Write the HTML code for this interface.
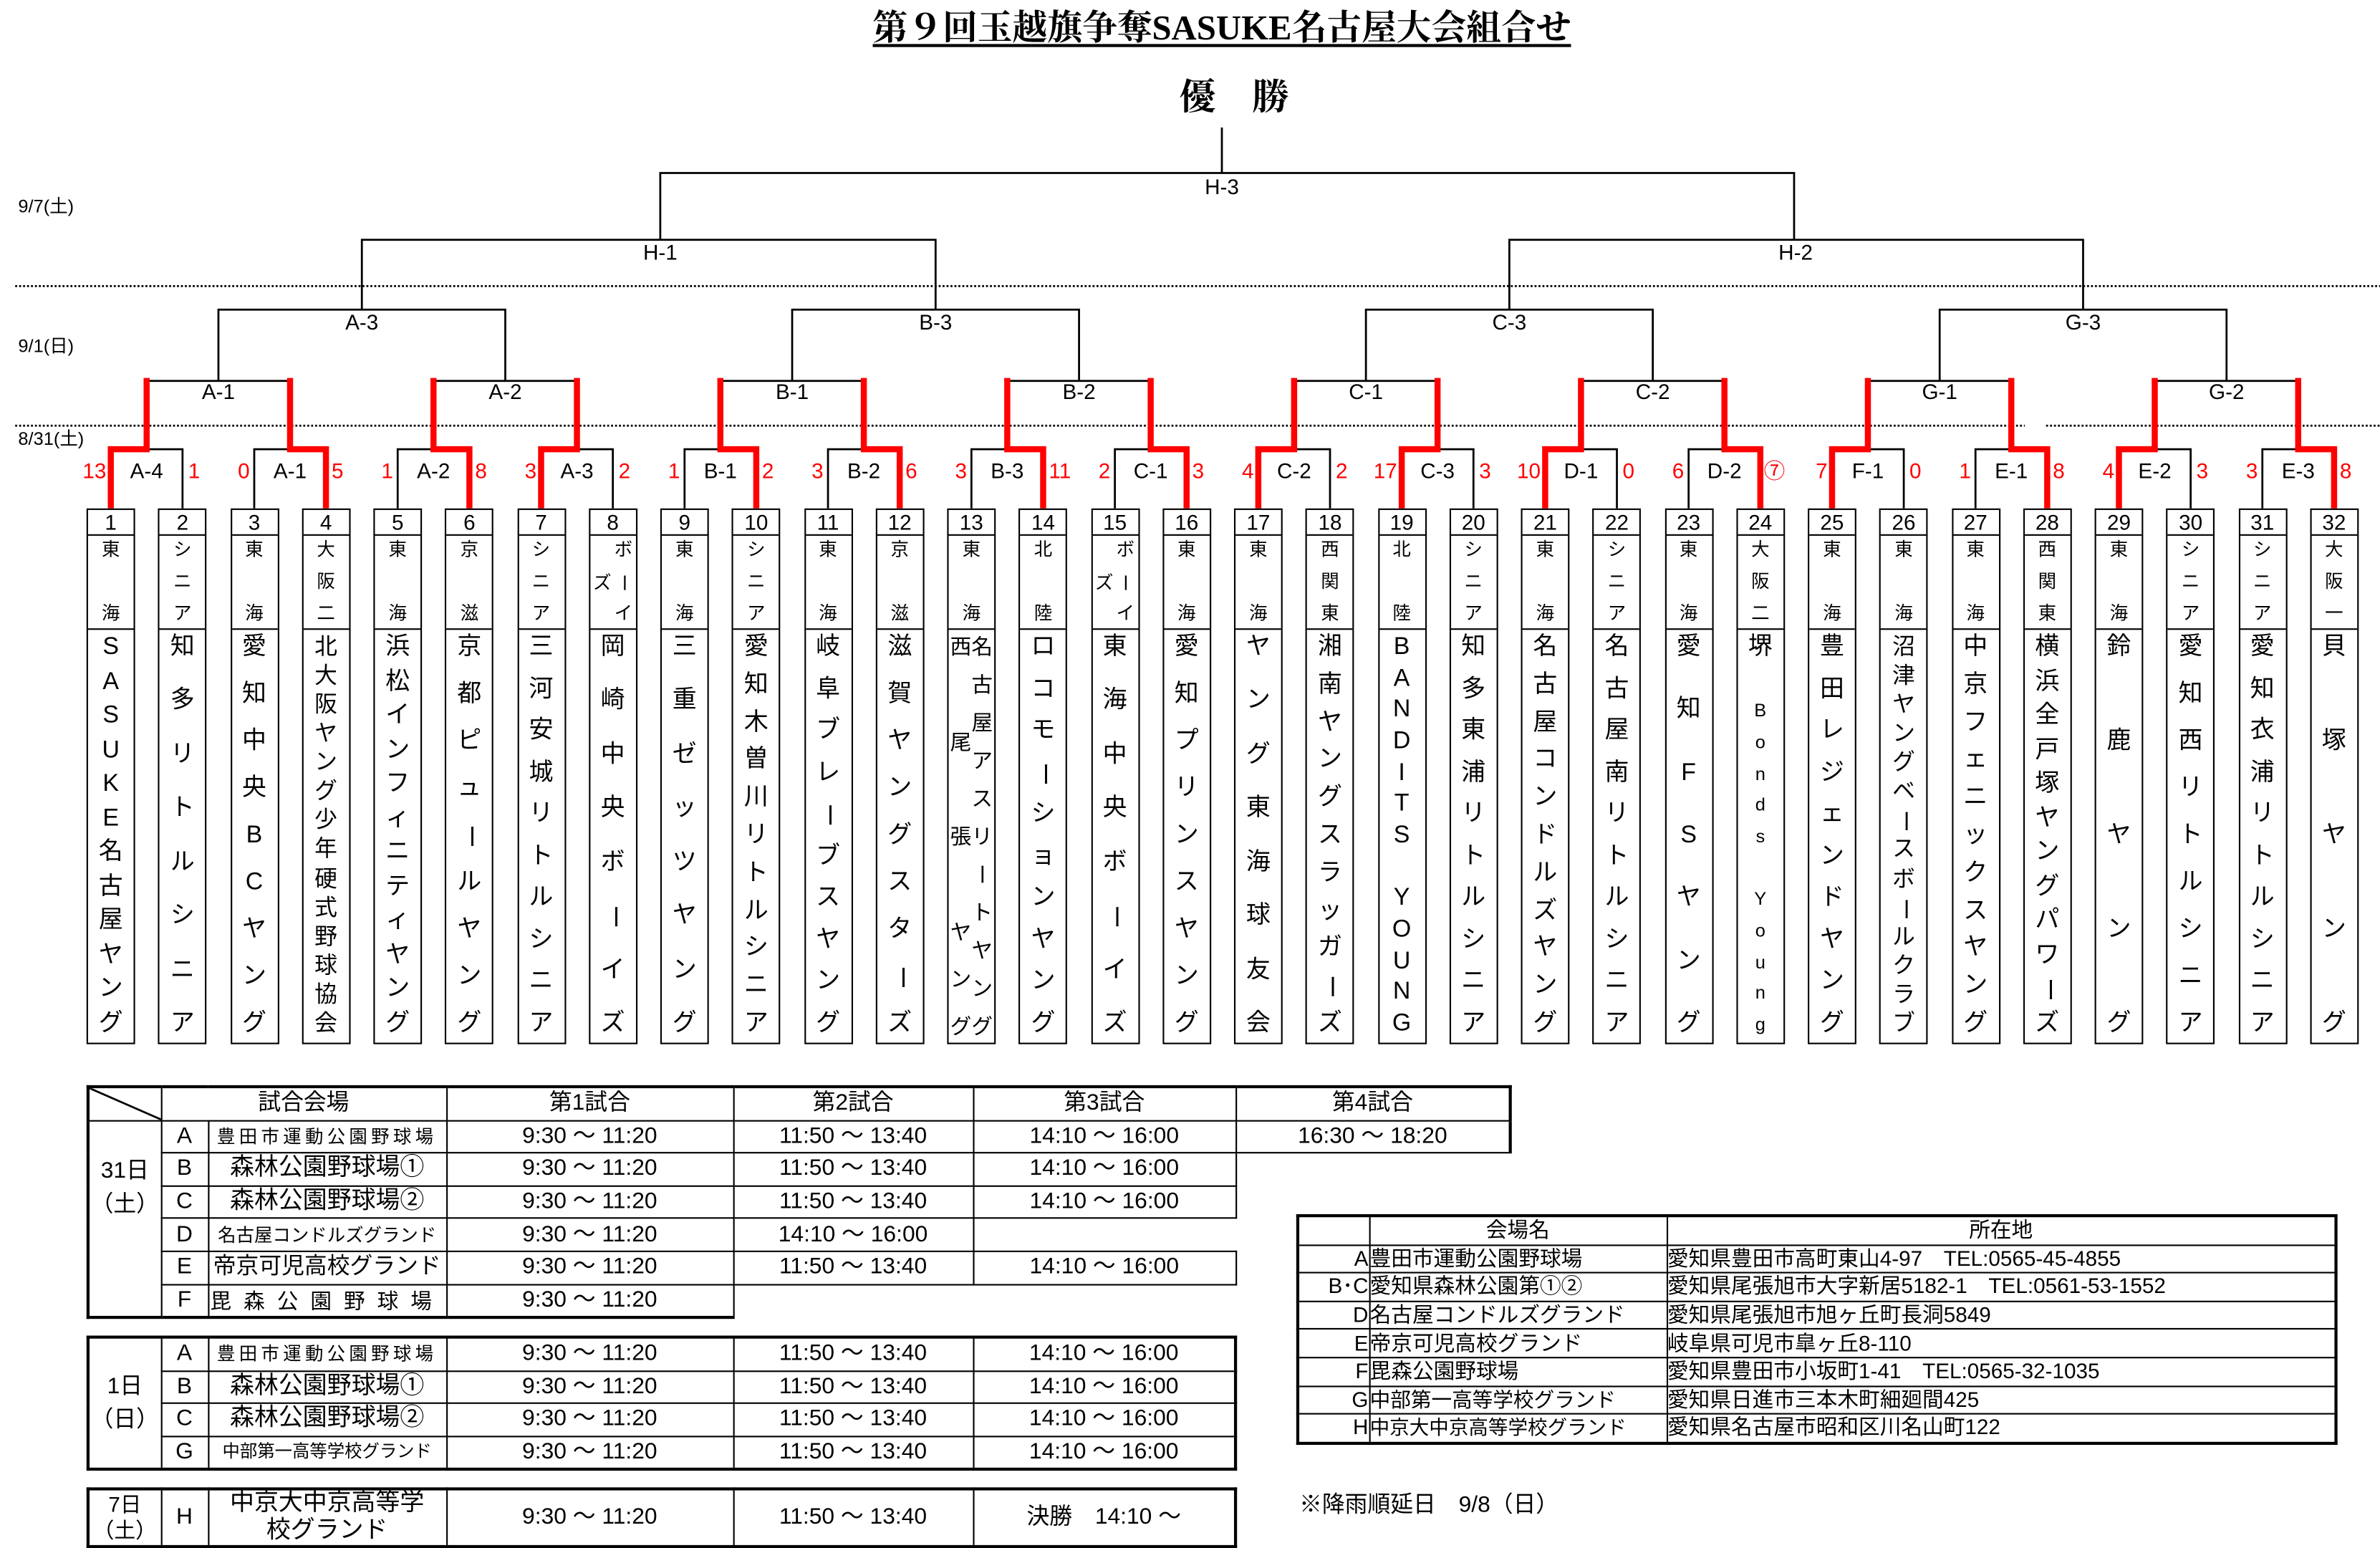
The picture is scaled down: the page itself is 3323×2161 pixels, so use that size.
<!DOCTYPE html>
<html><head><meta charset="utf-8">
<style>
html,body{margin:0;padding:0;background:#fff;width:3323px;height:2159px;overflow:hidden}
#root{position:absolute;left:0;top:0;width:1568px;height:1019px;transform:scale(2.11926,2.11874);transform-origin:0 0;font-family:"Liberation Sans","Noto Sans CJK JP",sans-serif;color:#000}
.ab{position:absolute}
.b{position:absolute;top:335px;width:32px;height:353px;border:1.5px solid #000;box-sizing:border-box;display:flex;flex-direction:column;background:#fff}
.n{height:16px;border-bottom:1.5px solid #000;font-size:14px;line-height:17px;text-align:center;flex:none}
.r{height:62px;border-bottom:1.5px solid #000;display:flex;flex-direction:column;justify-content:space-between;align-items:center;font-size:12px;line-height:14px;padding:2px 0 3px;box-sizing:border-box;flex:none;position:relative}
.t{flex:1;display:flex;flex-direction:column;justify-content:space-between;align-items:center;font-size:16px;line-height:18px;padding:3px 0 3px;box-sizing:border-box}
.t span,.r span{display:block;height:18px}
.r span{height:14px}
.v{transform:rotate(90deg)}
.t2{flex:1;display:flex;flex-direction:row;justify-content:space-between;padding:3px 1px;box-sizing:border-box;font-size:14px;line-height:16px}
.t2>div{display:flex;flex-direction:column;justify-content:space-between;align-items:center;width:15px}
.t2 span{display:block;height:16px}
.sm{font-size:12px}
table{border-collapse:collapse;table-layout:fixed;position:absolute}
td{border:1.4px solid #000;padding:0;text-align:center;font-size:15px;white-space:nowrap;overflow:hidden}
td.e{border:none}
.sch td{height:20.6px;line-height:20px}
.ven td{height:17.6px;line-height:17px;font-size:14px}
</style></head><body><div id="root">

<svg class="ab" style="left:0;top:0" width="1568" height="1019" viewBox="0 0 1568 1019">
<g stroke="#000" stroke-width="1.3" fill="none">
<line x1="805" y1="84" x2="805" y2="114"/>
<path d="M435 158V114H1182V158"/>
<path d="M238.4 204V158H616.4V204"/>
<path d="M994.4 204V158H1372.4V204"/>
<path d="M143.9 251V204H332.9V251"/>
<path d="M521.9 251V204H710.9V251"/>
<path d="M899.9 251V204H1088.9V251"/>
<path d="M1277.9 251V204H1466.9V251"/>
<path d="M96.6 251H191.1M285.6 251H380.1M474.6 251H569.1M663.6 251H758.1M852.6 251H947.1M1041.6 251H1136.1M1230.6 251H1325.1M1419.6 251H1514.1"/>
<path d="M73 335V296H120.25V335M167.5 335V296H214.75V335M262 335V296H309.25V335M356.5 335V296H403.75V335M451 335V296H498.25V335M545.5 335V296H592.75V335M640 335V296H687.25V335M734.5 335V296H781.75V335M829 335V296H876.25V335M923.5 335V296H970.75V335M1018 335V296H1065.25V335M1112.5 335V296H1159.75V335M1207 335V296H1254.25V335M1301.5 335V296H1348.75V335M1396 335V296H1443.25V335M1490.5 335V296H1537.75V335"/>
</g>
<g stroke="#000" stroke-width="1.3" stroke-dasharray="1.3 1.3">
<line x1="10" y1="188.5" x2="1568" y2="188.5"/>
<line x1="10" y1="280.5" x2="1334" y2="280.5"/>
<line x1="1348" y1="280.5" x2="1568" y2="280.5"/>
</g>
<g stroke="#f00" stroke-width="4" fill="none" stroke-linejoin="miter">
<path d="M73 335V296H96.6V249"/>
<path d="M214.75 335V296H191.1V249"/>
<path d="M309.25 335V296H285.6V249"/>
<path d="M356.5 335V296H380.1V249"/>
<path d="M498.25 335V296H474.6V249"/>
<path d="M592.75 335V296H569.1V249"/>
<path d="M687.25 335V296H663.6V249"/>
<path d="M781.75 335V296H758.1V249"/>
<path d="M829 335V296H852.6V249"/>
<path d="M923.5 335V296H947.1V249"/>
<path d="M1018 335V296H1041.6V249"/>
<path d="M1159.75 335V296H1136.1V249"/>
<path d="M1207 335V296H1230.6V249"/>
<path d="M1348.75 335V296H1325.1V249"/>
<path d="M1396 335V296H1419.6V249"/>
<path d="M1537.75 335V296H1514.1V249"/>
</g>
<g font-family="Liberation Sans, Noto Sans CJK JP, sans-serif" font-size="14" text-anchor="middle">
<text x="805" y="128">H-3</text>
<text x="435" y="171">H-1</text><text x="1183" y="171">H-2</text>
<text x="238.4" y="217">A-3</text><text x="616.4" y="217">B-3</text><text x="994.4" y="217">C-3</text><text x="1372.4" y="217">G-3</text>
<text x="143.9" y="263">A-1</text><text x="332.9" y="263">A-2</text><text x="521.9" y="263">B-1</text><text x="710.9" y="263">B-2</text><text x="899.9" y="263">C-1</text><text x="1088.9" y="263">C-2</text><text x="1277.9" y="263">G-1</text><text x="1466.9" y="263">G-2</text>
<text x="96.6" y="315">A-4</text><text x="191.1" y="315">A-1</text><text x="285.6" y="315">A-2</text><text x="380.1" y="315">A-3</text><text x="474.6" y="315">B-1</text><text x="569.1" y="315">B-2</text><text x="663.6" y="315">B-3</text><text x="758.1" y="315">C-1</text><text x="852.6" y="315">C-2</text><text x="947.1" y="315">C-3</text><text x="1041.6" y="315">D-1</text><text x="1136.1" y="315">D-2</text><text x="1230.6" y="315">F-1</text><text x="1325.1" y="315">E-1</text><text x="1419.6" y="315">E-2</text><text x="1514.1" y="315">E-3</text>
</g>
<g font-family="Liberation Sans, Noto Sans CJK JP, sans-serif" font-size="14" fill="#f00" text-anchor="end">
<text x="70" y="315">13</text><text x="164.5" y="315">0</text><text x="259" y="315">1</text><text x="353.5" y="315">3</text><text x="448" y="315">1</text><text x="542.5" y="315">3</text><text x="637" y="315">3</text><text x="731.5" y="315">2</text><text x="826" y="315">4</text><text x="920.5" y="315">17</text><text x="1015" y="315">10</text><text x="1109.5" y="315">6</text><text x="1204" y="315">7</text><text x="1298.5" y="315">1</text><text x="1393" y="315">4</text><text x="1487.5" y="315">3</text>
</g>
<g font-family="Liberation Sans, Noto Sans CJK JP, sans-serif" font-size="14" fill="#f00" text-anchor="start">
<text x="124" y="315">1</text><text x="218.5" y="315">5</text><text x="313" y="315">8</text><text x="407.5" y="315">2</text><text x="502" y="315">2</text><text x="596.5" y="315">6</text><text x="691" y="315">11</text><text x="785.5" y="315">3</text><text x="880" y="315">2</text><text x="974.5" y="315">3</text><text x="1069" y="315">0</text><text x="1162" y="315">⑦</text><text x="1258" y="315">0</text><text x="1352.5" y="315">8</text><text x="1447" y="315">3</text><text x="1541.5" y="315">8</text>
</g>
<g font-family="Liberation Sans, Noto Sans CJK JP, sans-serif" font-size="12">
<text x="12" y="140">9/7(土)</text><text x="12" y="232">9/1(日)</text><text x="12" y="293">8/31(土)</text>
</g>
</svg>

<div class="ab" style="left:560px;top:5px;width:490px;text-align:center;font-family:'Liberation Serif','Noto Serif CJK JP','Noto Serif CJK SC',serif;font-weight:bold;font-size:23px;line-height:28px;white-space:nowrap"><span style="text-decoration:underline;text-decoration-thickness:2px;text-underline-offset:3px">第９回玉越旗争奪SASUKE名古屋大会組合せ</span></div>
<div class="ab" style="left:763px;top:50px;width:100px;text-align:center;font-weight:bold;font-size:24px;line-height:30px;font-family:'Liberation Serif','Noto Serif CJK JP',serif">優　勝</div>

<!-- boxes -->
<div class="b" style="left:57px"><div class="n">1</div><div class="r"><span>東</span><span>海</span></div><div class="t"><span>S</span><span>A</span><span>S</span><span>U</span><span>K</span><span>E</span><span>名</span><span>古</span><span>屋</span><span>ヤ</span><span>ン</span><span>グ</span></div></div>
<div class="b" style="left:104.25px"><div class="n">2</div><div class="r"><span>シ</span><span>ニ</span><span>ア</span></div><div class="t"><span>知</span><span>多</span><span>リ</span><span>ト</span><span>ル</span><span>シ</span><span>ニ</span><span>ア</span></div></div>
<div class="b" style="left:151.5px"><div class="n">3</div><div class="r"><span>東</span><span>海</span></div><div class="t"><span>愛</span><span>知</span><span>中</span><span>央</span><span>B</span><span>C</span><span>ヤ</span><span>ン</span><span>グ</span></div></div>
<div class="b" style="left:198.75px"><div class="n">4</div><div class="r"><span>大</span><span>阪</span><span>二</span></div><div class="t" style="font-size:15px"><span>北</span><span>大</span><span>阪</span><span>ヤ</span><span>ン</span><span>グ</span><span>少</span><span>年</span><span>硬</span><span>式</span><span>野</span><span>球</span><span>協</span><span>会</span></div></div>
<div class="b" style="left:246px"><div class="n">5</div><div class="r"><span>東</span><span>海</span></div><div class="t"><span>浜</span><span>松</span><span>イ</span><span>ン</span><span>フ</span><span>ィ</span><span>ニ</span><span>テ</span><span>ィ</span><span>ヤ</span><span>ン</span><span>グ</span></div></div>
<div class="b" style="left:293.25px"><div class="n">6</div><div class="r"><span>京</span><span>滋</span></div><div class="t"><span>京</span><span>都</span><span>ピ</span><span>ュ</span><span class="v">ー</span><span>ル</span><span>ヤ</span><span>ン</span><span>グ</span></div></div>
<div class="b" style="left:340.5px"><div class="n">7</div><div class="r"><span>シ</span><span>ニ</span><span>ア</span></div><div class="t"><span>三</span><span>河</span><span>安</span><span>城</span><span>リ</span><span>ト</span><span>ル</span><span>シ</span><span>ニ</span><span>ア</span></div></div>
<div class="b" style="left:387.75px"><div class="n">8</div><div class="r"><span style="position:absolute;right:2px;top:2px">ボ</span><span style="position:absolute;left:2px;top:24px">ズ</span><span class="v" style="position:absolute;right:2px;top:24px">ー</span><span style="position:absolute;right:2px;bottom:3px">イ</span></div><div class="t"><span>岡</span><span>崎</span><span>中</span><span>央</span><span>ボ</span><span class="v">ー</span><span>イ</span><span>ズ</span></div></div>
<div class="b" style="left:435px"><div class="n">9</div><div class="r"><span>東</span><span>海</span></div><div class="t"><span>三</span><span>重</span><span>ゼ</span><span>ッ</span><span>ツ</span><span>ヤ</span><span>ン</span><span>グ</span></div></div>
<div class="b" style="left:482.25px"><div class="n">10</div><div class="r"><span>シ</span><span>ニ</span><span>ア</span></div><div class="t"><span>愛</span><span>知</span><span>木</span><span>曽</span><span>川</span><span>リ</span><span>ト</span><span>ル</span><span>シ</span><span>ニ</span><span>ア</span></div></div>
<div class="b" style="left:529.5px"><div class="n">11</div><div class="r"><span>東</span><span>海</span></div><div class="t"><span>岐</span><span>阜</span><span>ブ</span><span>レ</span><span class="v">ー</span><span>ブ</span><span>ス</span><span>ヤ</span><span>ン</span><span>グ</span></div></div>
<div class="b" style="left:576.75px"><div class="n">12</div><div class="r"><span>京</span><span>滋</span></div><div class="t"><span>滋</span><span>賀</span><span>ヤ</span><span>ン</span><span>グ</span><span>ス</span><span>タ</span><span class="v">ー</span><span>ズ</span></div></div>
<div class="b" style="left:624px"><div class="n">13</div><div class="r"><span>東</span><span>海</span></div><div class="t2"><div><span>西</span><span></span><span>尾</span><span></span><span>張</span><span></span><span>ヤ</span><span>ン</span><span>グ</span></div><div><span>名</span><span>古</span><span>屋</span><span>ア</span><span>ス</span><span>リ</span><span class="v">ー</span><span>ト</span><span>ヤ</span><span>ン</span><span>グ</span></div></div></div>
<div class="b" style="left:671.25px"><div class="n">14</div><div class="r"><span>北</span><span>陸</span></div><div class="t"><span>ロ</span><span>コ</span><span>モ</span><span class="v">ー</span><span>シ</span><span>ョ</span><span>ン</span><span>ヤ</span><span>ン</span><span>グ</span></div></div>
<div class="b" style="left:718.5px"><div class="n">15</div><div class="r"><span style="position:absolute;right:2px;top:2px">ボ</span><span style="position:absolute;left:2px;top:24px">ズ</span><span class="v" style="position:absolute;right:2px;top:24px">ー</span><span style="position:absolute;right:2px;bottom:3px">イ</span></div><div class="t"><span>東</span><span>海</span><span>中</span><span>央</span><span>ボ</span><span class="v">ー</span><span>イ</span><span>ズ</span></div></div>
<div class="b" style="left:765.75px"><div class="n">16</div><div class="r"><span>東</span><span>海</span></div><div class="t"><span>愛</span><span>知</span><span>プ</span><span>リ</span><span>ン</span><span>ス</span><span>ヤ</span><span>ン</span><span>グ</span></div></div>
<div class="b" style="left:813px"><div class="n">17</div><div class="r"><span>東</span><span>海</span></div><div class="t"><span>ヤ</span><span>ン</span><span>グ</span><span>東</span><span>海</span><span>球</span><span>友</span><span>会</span></div></div>
<div class="b" style="left:860.25px"><div class="n">18</div><div class="r"><span>西</span><span>関</span><span>東</span></div><div class="t"><span>湘</span><span>南</span><span>ヤ</span><span>ン</span><span>グ</span><span>ス</span><span>ラ</span><span>ッ</span><span>ガ</span><span class="v">ー</span><span>ズ</span></div></div>
<div class="b" style="left:907.5px"><div class="n">19</div><div class="r"><span>北</span><span>陸</span></div><div class="t"><span>B</span><span>A</span><span>N</span><span>D</span><span>I</span><span>T</span><span>S</span><span></span><span>Y</span><span>O</span><span>U</span><span>N</span><span>G</span></div></div>
<div class="b" style="left:954.75px"><div class="n">20</div><div class="r"><span>シ</span><span>ニ</span><span>ア</span></div><div class="t"><span>知</span><span>多</span><span>東</span><span>浦</span><span>リ</span><span>ト</span><span>ル</span><span>シ</span><span>ニ</span><span>ア</span></div></div>
<div class="b" style="left:1002px"><div class="n">21</div><div class="r"><span>東</span><span>海</span></div><div class="t"><span>名</span><span>古</span><span>屋</span><span>コ</span><span>ン</span><span>ド</span><span>ル</span><span>ズ</span><span>ヤ</span><span>ン</span><span>グ</span></div></div>
<div class="b" style="left:1049.25px"><div class="n">22</div><div class="r"><span>シ</span><span>ニ</span><span>ア</span></div><div class="t"><span>名</span><span>古</span><span>屋</span><span>南</span><span>リ</span><span>ト</span><span>ル</span><span>シ</span><span>ニ</span><span>ア</span></div></div>
<div class="b" style="left:1096.5px"><div class="n">23</div><div class="r"><span>東</span><span>海</span></div><div class="t"><span>愛</span><span>知</span><span>F</span><span>S</span><span>ヤ</span><span>ン</span><span>グ</span></div></div>
<div class="b" style="left:1143.75px"><div class="n">24</div><div class="r"><span>大</span><span>阪</span><span>二</span></div><div class="t"><span>堺</span><span></span><span class="sm">B</span><span class="sm">o</span><span class="sm">n</span><span class="sm">d</span><span class="sm">s</span><span></span><span class="sm">Y</span><span class="sm">o</span><span class="sm">u</span><span class="sm">n</span><span class="sm">g</span></div></div>
<div class="b" style="left:1191px"><div class="n">25</div><div class="r"><span>東</span><span>海</span></div><div class="t"><span>豊</span><span>田</span><span>レ</span><span>ジ</span><span>ェ</span><span>ン</span><span>ド</span><span>ヤ</span><span>ン</span><span>グ</span></div></div>
<div class="b" style="left:1238.25px"><div class="n">26</div><div class="r"><span>東</span><span>海</span></div><div class="t" style="font-size:15px"><span>沼</span><span>津</span><span>ヤ</span><span>ン</span><span>グ</span><span>ベ</span><span class="v">ー</span><span>ス</span><span>ボ</span><span class="v">ー</span><span>ル</span><span>ク</span><span>ラ</span><span>ブ</span></div></div>
<div class="b" style="left:1285.5px"><div class="n">27</div><div class="r"><span>東</span><span>海</span></div><div class="t"><span>中</span><span>京</span><span>フ</span><span>ェ</span><span>ニ</span><span>ッ</span><span>ク</span><span>ス</span><span>ヤ</span><span>ン</span><span>グ</span></div></div>
<div class="b" style="left:1332.75px"><div class="n">28</div><div class="r"><span>西</span><span>関</span><span>東</span></div><div class="t"><span>横</span><span>浜</span><span>全</span><span>戸</span><span>塚</span><span>ヤ</span><span>ン</span><span>グ</span><span>パ</span><span>ワ</span><span class="v">ー</span><span>ズ</span></div></div>
<div class="b" style="left:1380px"><div class="n">29</div><div class="r"><span>東</span><span>海</span></div><div class="t"><span>鈴</span><span>鹿</span><span>ヤ</span><span>ン</span><span>グ</span></div></div>
<div class="b" style="left:1427.25px"><div class="n">30</div><div class="r"><span>シ</span><span>ニ</span><span>ア</span></div><div class="t"><span>愛</span><span>知</span><span>西</span><span>リ</span><span>ト</span><span>ル</span><span>シ</span><span>ニ</span><span>ア</span></div></div>
<div class="b" style="left:1474.5px"><div class="n">31</div><div class="r"><span>シ</span><span>ニ</span><span>ア</span></div><div class="t"><span>愛</span><span>知</span><span>衣</span><span>浦</span><span>リ</span><span>ト</span><span>ル</span><span>シ</span><span>ニ</span><span>ア</span></div></div>
<div class="b" style="left:1521.75px"><div class="n">32</div><div class="r"><span>大</span><span>阪</span><span>一</span></div><div class="t"><span>貝</span><span>塚</span><span>ヤ</span><span>ン</span><span>グ</span></div></div>

<!-- schedule block 1 -->
<table class="sch" style="left:57px;top:715px;width:937px">
<colgroup><col style="width:48px"><col style="width:31px"><col style="width:157px"><col style="width:189px"><col style="width:158px"><col style="width:173px"><col style="width:181px"></colgroup>
<tr><td style="position:relative;border-top:2px solid #000;border-left:2px solid #000"><svg width="48" height="21" style="position:absolute;left:0;top:0"><line x1="0" y1="0" x2="48" y2="21" stroke="#000" stroke-width="1.3"/></svg></td><td colspan="2" style="border-top:2px solid #000">試合会場</td><td style="border-top:2px solid #000">第1試合</td><td style="border-top:2px solid #000">第2試合</td><td style="border-top:2px solid #000">第3試合</td><td style="border-top:2px solid #000;border-right:2px solid #000">第4試合</td></tr>
<tr><td rowspan="6" style="line-height:22px;vertical-align:middle;border-bottom:2px solid #000;border-left:2px solid #000"><div style="margin-top:-40px">31日<br>（土）</div></td><td>A</td><td style="font-size:12px;letter-spacing:2.5px">豊田市運動公園野球場</td><td>9:30 ～ 11:20</td><td>11:50 ～ 13:40</td><td>14:10 ～ 16:00</td><td style="border-right:2px solid #000">16:30 ～ 18:20</td></tr>
<tr><td>B</td><td style="font-size:16px">森林公園野球場①</td><td>9:30 ～ 11:20</td><td>11:50 ～ 13:40</td><td>14:10 ～ 16:00</td><td class="e"></td></tr>
<tr><td>C</td><td style="font-size:16px">森林公園野球場②</td><td>9:30 ～ 11:20</td><td>11:50 ～ 13:40</td><td>14:10 ～ 16:00</td><td class="e"></td></tr>
<tr><td>D</td><td style="font-size:12px">名古屋コンドルズグランド</td><td>9:30 ～ 11:20</td><td>14:10 ～ 16:00</td><td class="e"></td><td class="e"></td></tr>
<tr><td>E</td><td style="font-size:15px">帝京可児高校グランド</td><td>9:30 ～ 11:20</td><td>11:50 ～ 13:40</td><td>14:10 ～ 16:00</td><td class="e"></td></tr>
<tr><td style="border-bottom:2px solid #000">F</td><td style="font-size:14px;letter-spacing:8px;border-bottom:2px solid #000">毘森公園野球場</td><td style="border-bottom:2px solid #000;border-right:1.4px solid #000">9:30 ～ 11:20</td><td class="e"></td><td class="e"></td><td class="e"></td></tr>
</table>

<!-- schedule block 2 -->
<table class="sch" style="left:57px;top:880px;width:756px;border:2px solid #000">
<colgroup><col style="width:48px"><col style="width:31px"><col style="width:157px"><col style="width:189px"><col style="width:158px"><col style="width:173px"></colgroup>
<tr><td rowspan="4" style="line-height:22px">1日<br>（日）</td><td>A</td><td style="font-size:12px;letter-spacing:2.5px">豊田市運動公園野球場</td><td>9:30 ～ 11:20</td><td>11:50 ～ 13:40</td><td>14:10 ～ 16:00</td></tr>
<tr><td>B</td><td style="font-size:16px">森林公園野球場①</td><td>9:30 ～ 11:20</td><td>11:50 ～ 13:40</td><td>14:10 ～ 16:00</td></tr>
<tr><td>C</td><td style="font-size:16px">森林公園野球場②</td><td>9:30 ～ 11:20</td><td>11:50 ～ 13:40</td><td>14:10 ～ 16:00</td></tr>
<tr><td>G</td><td style="font-size:11.5px">中部第一高等学校グランド</td><td>9:30 ～ 11:20</td><td>11:50 ～ 13:40</td><td>14:10 ～ 16:00</td></tr>
</table>

<!-- schedule block 3 -->
<table class="sch" style="left:57px;top:980px;width:756px;border:2px solid #000">
<colgroup><col style="width:48px"><col style="width:31px"><col style="width:157px"><col style="width:189px"><col style="width:158px"><col style="width:173px"></colgroup>
<tr><td style="height:35px;line-height:17px;font-size:14px">7日<br>（土）</td><td>H</td><td style="font-size:16px;line-height:18px">中京大中京高等学<br>校グランド</td><td>9:30 ～ 11:20</td><td>11:50 ～ 13:40</td><td>決勝　14:10 ～</td></tr>
</table>

<!-- venue table -->
<table class="ven" style="left:854px;top:800px;width:684px;border:2px solid #000">
<colgroup><col style="width:47px"><col style="width:196px"><col style="width:441px"></colgroup>
<tr><td></td><td>会場名</td><td>所在地</td></tr>
<tr><td style="text-align:right">A</td><td style="text-align:left">豊田市運動公園野球場</td><td style="text-align:left">愛知県豊田市高町東山4-97　TEL:0565-45-4855</td></tr>
<tr><td style="text-align:right">B･C</td><td style="text-align:left">愛知県森林公園第①②</td><td style="text-align:left">愛知県尾張旭市大字新居5182-1　TEL:0561-53-1552</td></tr>
<tr><td style="text-align:right">D</td><td style="text-align:left">名古屋コンドルズグランド</td><td style="text-align:left">愛知県尾張旭市旭ヶ丘町長洞5849</td></tr>
<tr><td style="text-align:right">E</td><td style="text-align:left">帝京可児高校グランド</td><td style="text-align:left">岐阜県可児市皐ヶ丘8-110</td></tr>
<tr><td style="text-align:right">F</td><td style="text-align:left">毘森公園野球場</td><td style="text-align:left">愛知県豊田市小坂町1-41　TEL:0565-32-1035</td></tr>
<tr><td style="text-align:right">G</td><td style="text-align:left;font-size:13.5px">中部第一高等学校グランド</td><td style="text-align:left">愛知県日進市三本木町細廻間425</td></tr>
<tr><td style="text-align:right">H</td><td style="text-align:left;font-size:13px">中京大中京高等学校グランド</td><td style="text-align:left">愛知県名古屋市昭和区川名山町122</td></tr>
</table>

<div class="ab" style="left:856px;top:982px;font-size:15px;line-height:20px;white-space:nowrap">※降雨順延日　9/8（日）</div>

</div></body></html>
